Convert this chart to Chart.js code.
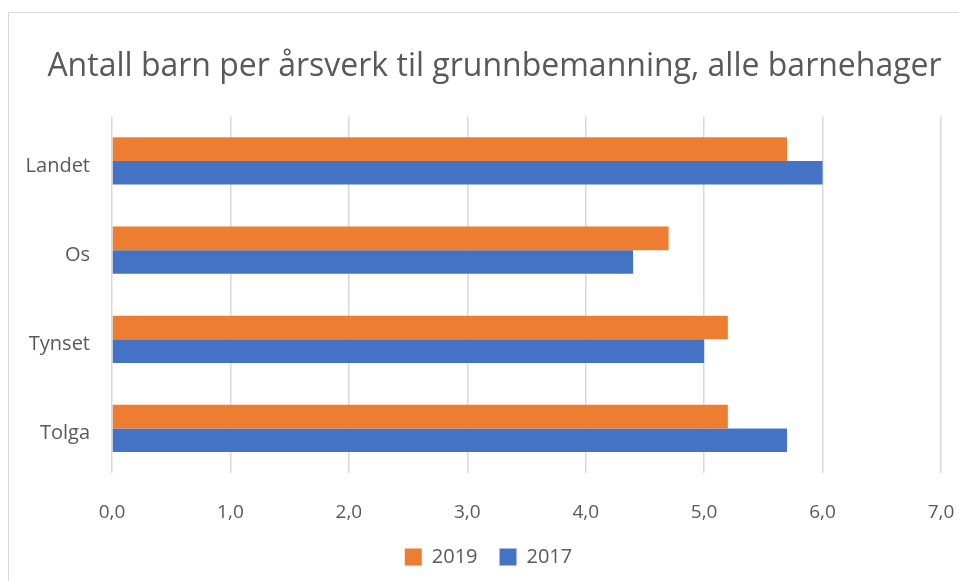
<!DOCTYPE html>
<html>
<head>
<meta charset="utf-8">
<script src="https://cdn.jsdelivr.net/npm/chart.js@4"></script>
<style>
  html, body { margin: 0; padding: 0; background: #fff; overflow: hidden; }
  .frame { position: absolute; left: 8px; top: 12px; width: 1200px; height: 900px; border: 1.5px solid #d9d9d9; }
  .wrap { position: absolute; left: 0; top: 0; width: 959px; height: 581px; }
</style>
</head>
<body>
<div class="frame"></div>
<div class="wrap"><canvas id="chart"></canvas></div>
<script>
const categories = ['Landet', 'Os', 'Tynset', 'Tolga'];
const values2019 = [5.7, 4.7, 5.2, 5.2];
const values2017 = [6.0, 4.4, 5.0, 5.7];
const seriesLabels = ['2019', '2017'];

const textColor = '#595959';
const font = 'Open Sans';

// the title and legend sit a little right of centre in the original
const nudgeBlocks = {
  id: 'nudgeBlocks',
  afterLayout(chart) {
    chart.titleBlock.left += 30;
    chart.legend.left += 9;
    chart.legend.right += 9;
  }
};

const ctx = document.getElementById('chart').getContext('2d');
new Chart(ctx, {
  type: 'bar',
  data: {
    labels: categories,
    datasets: [
      { label: seriesLabels[0], data: values2019, backgroundColor: '#ED7D31', barPercentage: 1, categoryPercentage: 0.53 },
      { label: seriesLabels[1], data: values2017, backgroundColor: '#4472C4', barPercentage: 1, categoryPercentage: 0.53 }
    ]
  },
  options: {
    indexAxis: 'y',
    responsive: true,
    maintainAspectRatio: false,
    animation: false,
    layout: { padding: { left: 0, right: 0, top: 48, bottom: 4 } },
    scales: {
      x: {
        min: 0,
        max: 7,
        afterFit: (scale) => {
          scale.height = 52;
          scale.paddingLeft = 0;
          scale.paddingRight = 18;
        },
        ticks: {
          stepSize: 1,
          color: textColor,
          padding: 28,
          font: { family: font, size: 19 },
          callback: (v) => v.toFixed(1).replace('.', ',')
        },
        grid: { color: '#d9d9d9', lineWidth: 1.5, drawTicks: false },
        border: { display: false }
      },
      y: {
        afterFit: (scale) => { scale.width = 112; },
        ticks: { color: textColor, padding: 14, labelOffset: 5, font: { family: font, size: 20 } },
        grid: { display: false },
        border: { display: false }
      }
    },
    plugins: {
      title: {
        display: true,
        text: 'Antall barn per årsverk til grunnbemanning, alle barnehager',
        color: textColor,
        font: { family: font, size: 32, weight: 'normal' },
        padding: { top: 0, bottom: 30 }
      },
      legend: {
        position: 'bottom',
        labels: {
          color: textColor,
          font: { family: font, size: 20 },
          boxWidth: 17,
          boxHeight: 17,
          padding: 22
        }
      },
      tooltip: { enabled: false }
    }
  },
  plugins: [nudgeBlocks]
});
</script>
</body>
</html>
